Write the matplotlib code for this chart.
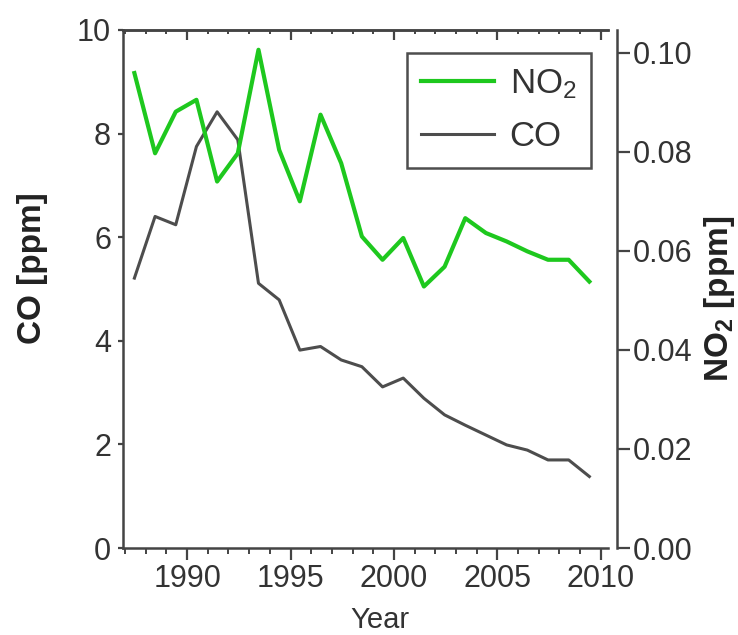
import numpy as np
import matplotlib.pyplot as plt
from matplotlib.ticker import MultipleLocator, FormatStrFormatter

plt.rcParams['font.family'] = ['Liberation Sans', 'DejaVu Sans']
plt.rcParams['mathtext.fontset'] = 'custom'
plt.rcParams['mathtext.rm'] = 'Liberation Sans'
plt.rcParams['mathtext.bf'] = 'Liberation Sans:bold'
plt.rcParams['mathtext.default'] = 'rm'

# annual values
years = np.arange(1987, 2010)
co = [5.21, 6.40, 6.24, 7.75, 8.42, 7.88, 5.11, 4.79, 3.82, 3.89, 3.63, 3.50,
      3.11, 3.28, 2.89, 2.57, 2.37, 2.18, 1.99, 1.89, 1.70, 1.70, 1.38]
no2 = [0.0959, 0.0797, 0.0881, 0.0905, 0.0740, 0.0797, 0.1006, 0.0804, 0.0700,
       0.0875, 0.0777, 0.0629, 0.0582, 0.0626, 0.0528, 0.0568, 0.0666, 0.0636,
       0.0619, 0.0599, 0.0582, 0.0582, 0.0538]

green = '#1ec81e'
grey = '#4d4d4d'
axc = '#444444'
txt = '#333333'

fig = plt.figure(figsize=(7.38, 6.35), dpi=100)
ax = fig.add_axes([0.1667, 0.137, 0.6571, 0.8158])
ax2 = ax.twinx()

# yearly means are drawn mid-year
x = years + 0.45
l_co, = ax.plot(x, co, color=grey, lw=2.2, label='CO')
l_no2, = ax2.plot(x, no2, color=green, lw=3.0, label='NO$_2$')

ax.set_xlim(1986.9, 2010.35)
ax.set_ylim(0, 10)
ax2.set_ylim(0, 0.1046)

for s in ['left', 'bottom', 'top']:
    ax.spines[s].set_color(axc)
    ax.spines[s].set_linewidth(1.8)
ax.spines['right'].set_visible(False)
for s in ['left', 'bottom', 'top']:
    ax2.spines[s].set_visible(False)
ax2.spines['right'].set_color(axc)
ax2.spines['right'].set_linewidth(1.8)
ax2.spines['right'].set_position(('outward', 6.5))

ax.xaxis.set_major_locator(MultipleLocator(5))
ax.xaxis.set_minor_locator(MultipleLocator(1))
ax.yaxis.set_major_locator(MultipleLocator(2))
ax2.yaxis.set_major_locator(MultipleLocator(0.02))
ax2.yaxis.set_major_formatter(FormatStrFormatter('%.2f'))

ax.tick_params(axis='x', which='major', direction='out', length=8.5, width=1.6,
               color=axc, labelsize=22, labelcolor=txt, pad=3)
ax.tick_params(axis='x', which='minor', direction='out', length=4.3, width=1.4, color=axc)
ax.tick_params(axis='y', direction='out', length=3.6, width=1.6, color=axc,
               labelsize=22, labelcolor=txt, pad=5)
ax2.tick_params(axis='y', direction='out', length=9.4, width=1.6, color=axc,
                labelsize=22, labelcolor=txt, pad=2)

top = ax.secondary_xaxis('top')
top.xaxis.set_major_locator(MultipleLocator(5))
top.xaxis.set_minor_locator(MultipleLocator(1))
top.tick_params(which='major', direction='in', length=7, width=1.6, color=axc, labeltop=False)
top.tick_params(which='minor', direction='in', length=3, width=1.4, color=axc)
top.spines['top'].set_color(axc)
top.spines['top'].set_linewidth(1.8)

ax.set_xlabel('Year', fontsize=21, color=txt)
ax.xaxis.set_label_coords(0.53, -0.112)
ax.set_ylabel('CO [ppm]', fontsize=24, fontweight='bold', color='#222222')
ax.yaxis.set_label_coords(-0.155, 0.54)
ax2.set_ylabel(r'$\mathbf{NO_2}$ [ppm]', fontsize=24, fontweight='bold', color='#222222')
ax2.yaxis.set_label_coords(1.194, 0.48)

leg = ax2.legend([l_no2, l_co], ['NO$_2$', 'CO'], loc='upper right',
                 bbox_to_anchor=(0.965, 0.9556), borderaxespad=0, fontsize=25,
                 frameon=True, fancybox=False, handlelength=2.1, handletextpad=0.45,
                 borderpad=0.42, labelspacing=0.55)
leg.get_frame().set_edgecolor('#222222')
leg.get_frame().set_linewidth(1.8)
for t in leg.get_texts():
    t.set_color(txt)

fig.savefig('out.png', dpi=100)
